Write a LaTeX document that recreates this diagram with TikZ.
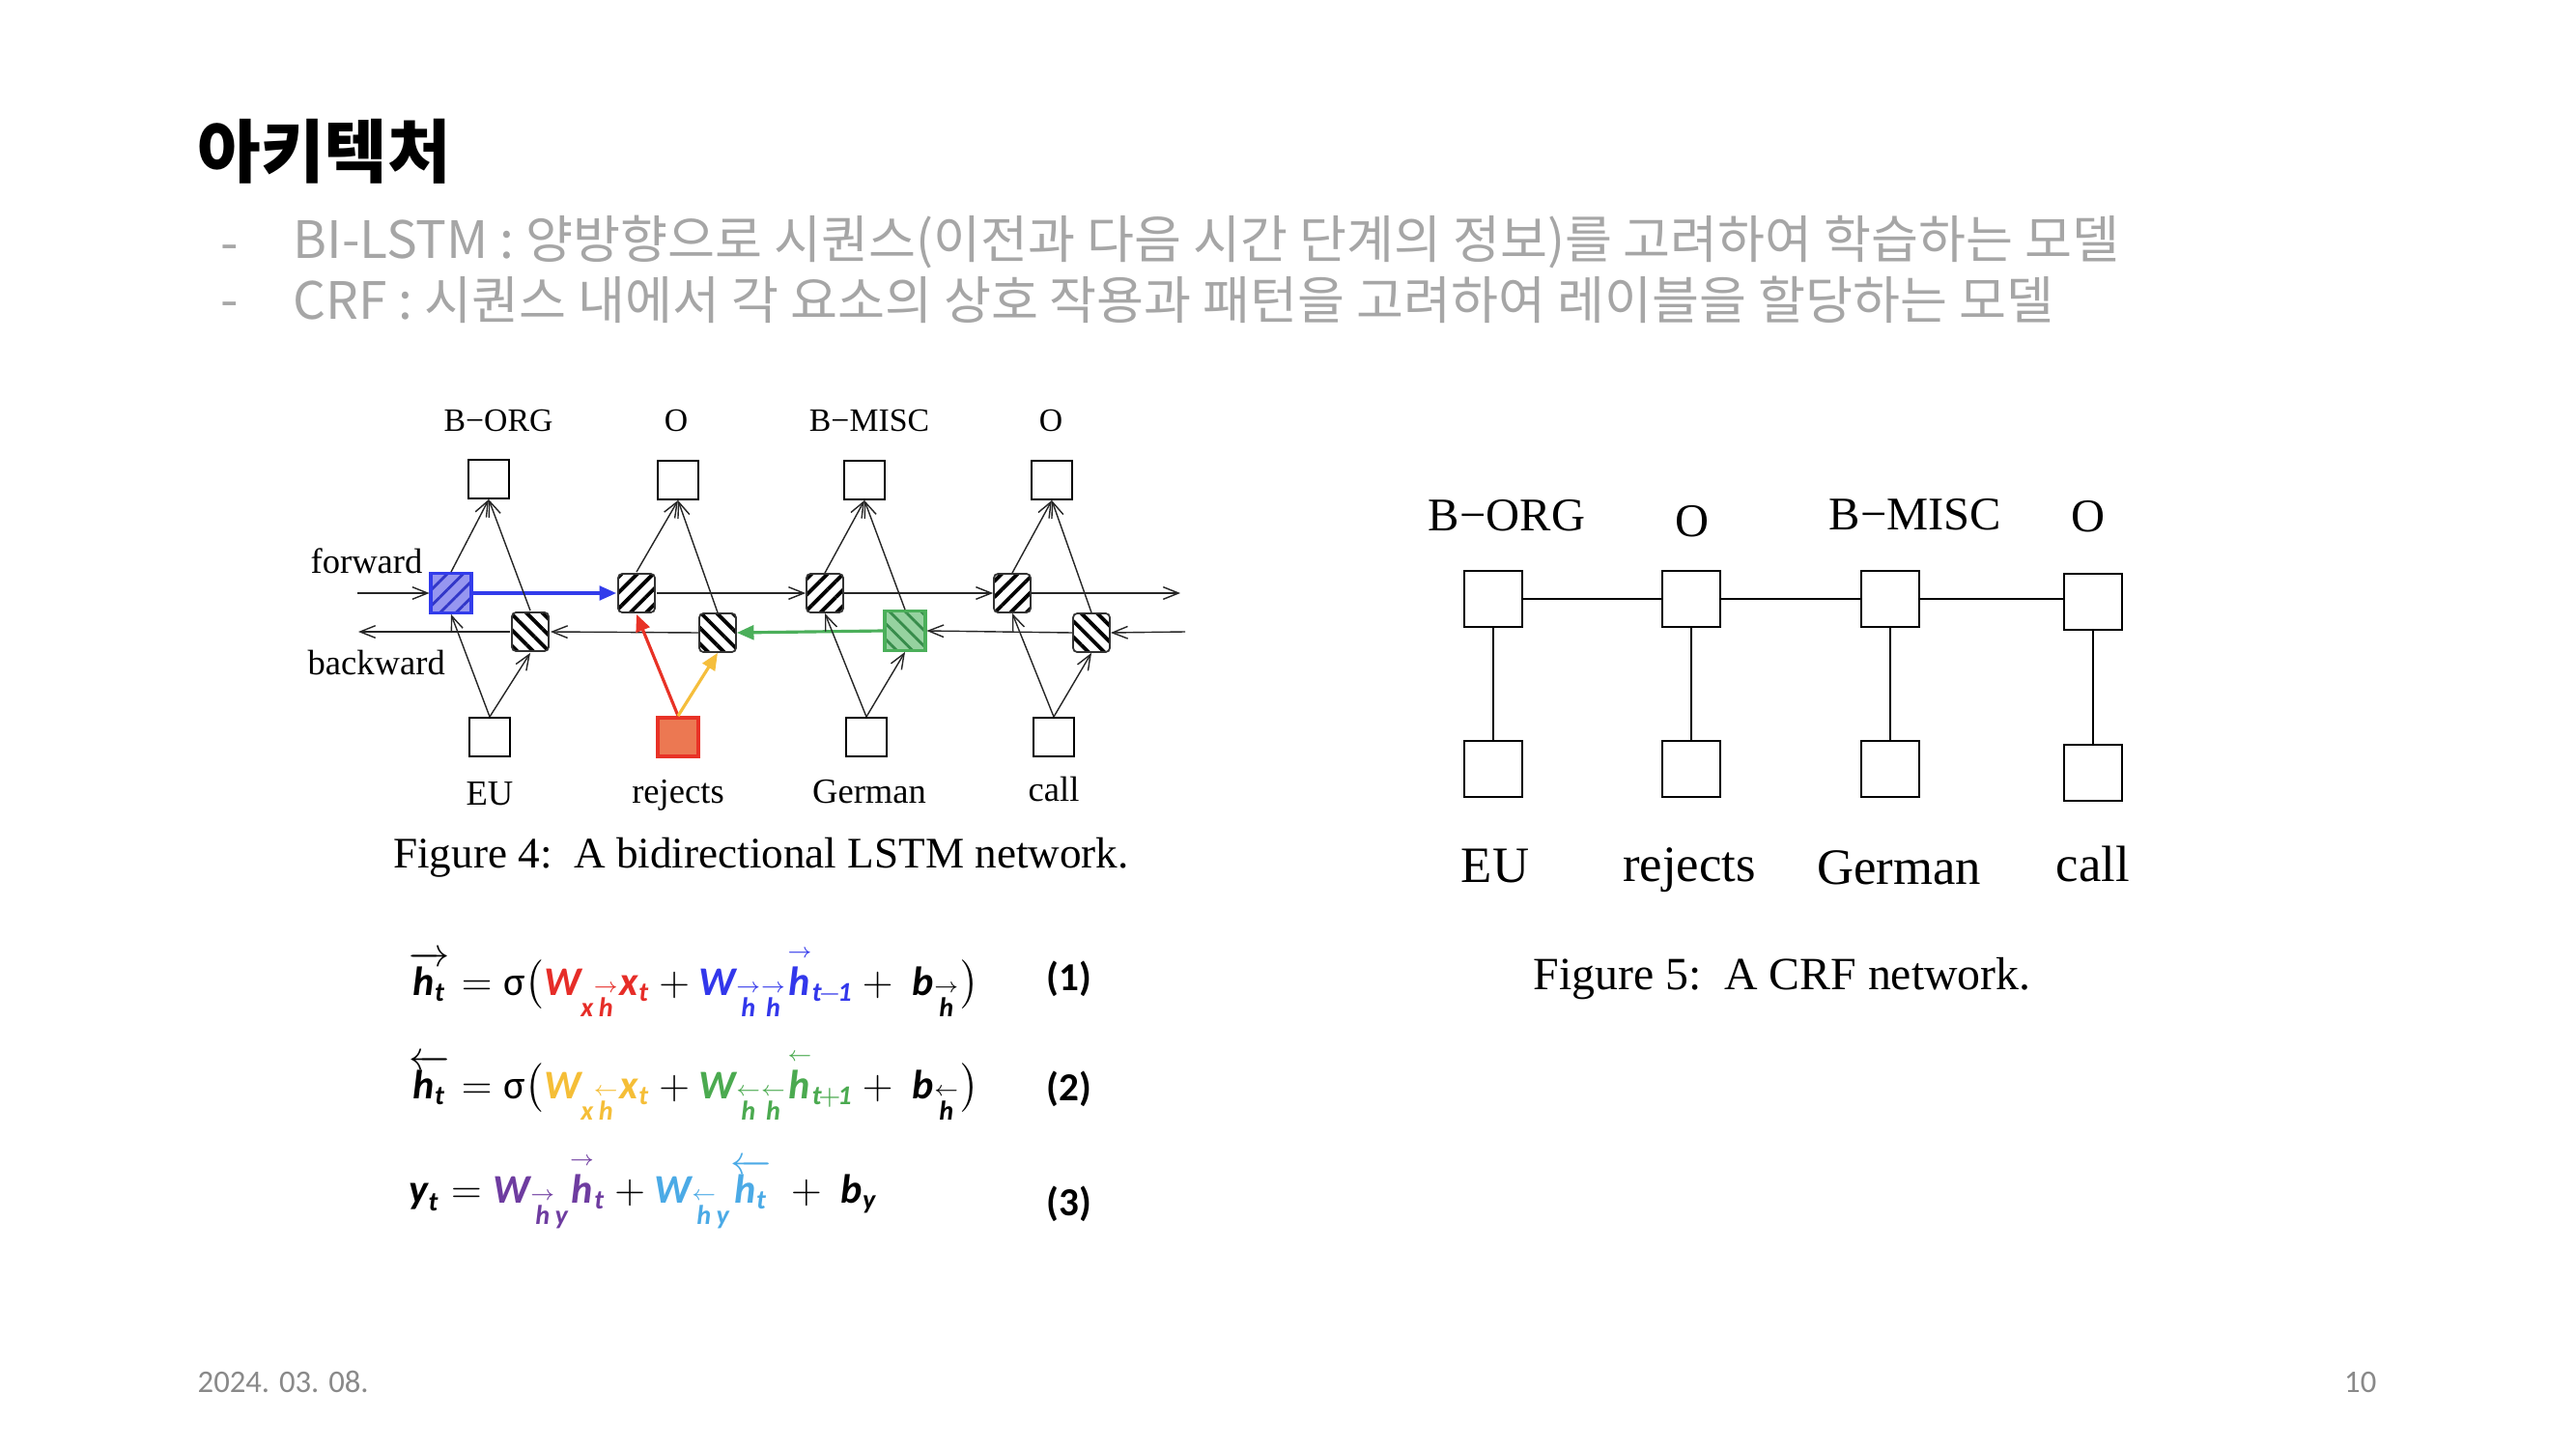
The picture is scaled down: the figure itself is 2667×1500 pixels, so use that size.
\documentclass[tikz,border=0pt]{standalone}
\usepackage{amsmath}
\usepackage{fontspec}
\usetikzlibrary{arrows.meta,patterns.meta}
\setmainfont{Liberation Serif}
\newfontfamily\kr{Noto Sans CJK KR}
\newfontfamily\eqf{Carlito}
\definecolor{bulgray}{RGB}{166,166,166}
\definecolor{footgray}{RGB}{137,137,137}
\definecolor{fblue}{RGB}{50,60,235}
\definecolor{fblueL}{RGB}{150,150,240}
\definecolor{fblueD}{RGB}{50,55,200}
\definecolor{ggreen}{RGB}{75,175,90}
\definecolor{ggreenL}{RGB}{150,210,160}
\definecolor{ggreenD}{RGB}{55,140,75}
\definecolor{rred}{RGB}{232,50,38}
\definecolor{rredL}{RGB}{236,120,82}
\definecolor{yel}{RGB}{245,190,60}
\definecolor{eqred}{RGB}{230,45,40}
\definecolor{eqblue}{RGB}{50,55,235}
\definecolor{eqyel}{RGB}{245,190,55}
\definecolor{eqgreen}{RGB}{75,170,80}
\definecolor{eqpurp}{RGB}{110,60,160}
\definecolor{eqlb}{RGB}{75,170,230}
\newcommand{\bi}[1]{\text{\eqf\bfseries\itshape #1}}
\newcommand{\ah}{\overset{\scriptscriptstyle\rightarrow}{\bi{h}}}
\newcommand{\lh}{\overset{\scriptscriptstyle\leftarrow}{\bi{h}}}
\tikzset{
  obox/.style={draw=black, line width=0.55pt, minimum width=4.2mm, minimum height=4.0mm, inner sep=0pt},
  hatchbase/.style={draw=black!80, line width=0.5pt, rounded corners=1.2pt, minimum width=3.8mm, minimum height=4.0mm, inner sep=0pt},
  fwd/.style={hatchbase, pattern={Lines[angle=45,distance=3.3pt,line width=1.1pt]}, pattern color=black},
  bwd/.style={hatchbase, pattern={Lines[angle=-45,distance=3.3pt,line width=1.1pt]}, pattern color=black},
  thin/.style={line width=0.4pt, black!85},
  oarr/.style={thin, -{Straight Barb[length=4.5pt,width=3.6pt,line width=0.4pt]}},
  farr/.style={line width=0.9pt, -{Triangle[length=5pt,width=4.2pt]}},
  lab4/.style={font=\fontsize{9.6}{10}\selectfont, anchor=base, inner sep=0pt},
  word4/.style={font=\fontsize{10.4}{11}\selectfont, anchor=base, inner sep=0pt},
  cbox/.style={draw=black, line width=0.7pt, minimum width=6.0mm, minimum height=5.8mm, inner sep=0pt},
  lab5/.style={font=\fontsize{13.8}{15}\selectfont, anchor=base, inner sep=0pt},
  word5/.style={font=\fontsize{15}{16}\selectfont, anchor=base, inner sep=0pt},
  bul/.style={font=\kr\fontsize{15.15}{17}\selectfont, text=bulgray, inner sep=0pt, anchor=west},
  eqn/.style={font=\fontsize{12}{14}\selectfont, anchor=base west, inner sep=0pt},
  eqno/.style={font=\eqf\bfseries\fontsize{11.7}{13}\selectfont, inner sep=0pt},
  foot/.style={font=\eqf\fontsize{9.3}{10}\selectfont, text=footgray, inner sep=0pt, anchor=base}
}
\begin{document}
\begin{tikzpicture}[x=0.1mm, y=-0.1mm]
\useasboundingbox[fill=white] (0,0) rectangle (2667,1500);

% title and bullets
\node[font=\kr\bfseries\fontsize{20.3}{23}\selectfont, anchor=west, inner sep=0pt] (title) at (204,157) {아키텍처};
\node[bul] (d1) at (228,251) {-\vphantom{양}};
\node[bul] (t1) at (303,251) {BI-LSTM :\ 양방향으로 시퀀스(이전과 다음 시간 단계의 정보)를 고려하여 학습하는 모델};
\node[bul] (d2) at (228,310) {-\vphantom{양}};
\node[bul] (t2) at (303,310) {CRF : 시퀀스 내에서 각 요소의 상호 작용과 패턴을 고려하여 레이블을 할당하는 모델};

% ---------- Figure 4 : BiLSTM ----------
\node[obox] (o1) at (506,496) {};
\node[obox] (o2) at (702,497) {};
\node[obox] (o3) at (895,497) {};
\node[obox] (o4) at (1089,497) {};
\node[obox] (i1) at (507,763) {};
\node[obox, draw=rred, line width=1.1pt, fill=rredL] (i2) at (702,763) {};
\node[obox] (i3) at (897,763) {};
\node[obox] (i4) at (1091,763) {};

\node[hatchbase, draw=fblue, line width=1.1pt, rounded corners=0pt, minimum width=4.2mm, minimum height=4.1mm,
      preaction={fill=fblueL}, pattern={Lines[angle=45,distance=3.3pt,line width=0.8pt]}, pattern color=fblueD] (f1) at (467,614) {};
\node[fwd] (f2) at (659,614) {};
\node[fwd] (f3) at (854,614) {};
\node[fwd] (f4) at (1048,614) {};
\node[bwd] (b1) at (549,654) {};
\node[bwd] (b2) at (743,655) {};
\node[hatchbase, draw=ggreen, line width=1.1pt, rounded corners=0pt, minimum width=4.2mm, minimum height=4.1mm,
      preaction={fill=ggreenL}, pattern={Lines[angle=-45,distance=3.3pt,line width=0.8pt]}, pattern color=ggreenD] (b3) at (937,653) {};
\node[bwd] (b4) at (1130,655) {};

\coordinate (fs) at (370,614);
\coordinate (fe) at (1222,614);
\coordinate (bs) at (1227,654);
\coordinate (be) at (371,654);

% horizontal chains
\draw[oarr] (fs) -- (f1.west);
\draw[farr, fblue] (f1.east) -- (f2.west);
\draw[oarr] (f2.east) -- (f3.west);
\draw[oarr] (f3.east) -- (f4.west);
\draw[oarr] (f4.east) -- (fe);
\draw[oarr] (bs) -- (b4.east);
\draw[oarr] (b4.west) -- (b3.east);
\draw[farr, ggreen] (b3.west) -- (b2.east);
\draw[oarr] (b2.west) -- (b1.east);
\draw[oarr] (b1.west) -- (be);

% vertical connections
\foreach \k in {1,3,4}{
  \draw[oarr] (i\k.north) -- (f\k.south);
  \draw[oarr] (i\k.north) -- (b\k.south);
}
\draw[farr, rred] (i2.north) -- (f2.south);
\draw[farr, yel] (i2.north) -- (b2.south);
\foreach \k in {1,2,3,4}{
  \draw[oarr] (f\k.north) -- (o\k.south);
  \draw[oarr] (b\k.north) -- (o\k.south);
}

% labels
\node[lab4] (lo1) at (516,446) {B−ORG};
\node[lab4] (lo2) at (700,446) {O};
\node[lab4] (lo3) at (900,446) {B−MISC};
\node[lab4] (lo4) at (1088,446) {O};
\node[word4] (w1) at (507,833) {EU};
\node[word4] (w2) at (702,831) {rejects};
\node[word4] (w3) at (900,831) {German};
\node[word4] (w4) at (1091,829) {call};
\node[word4, anchor=base west] (fw) at (321,593) {forward};
\node[word4, anchor=base west] (bw) at (318,698) {backward};
\node[font=\fontsize{12.85}{14}\selectfont, anchor=base, inner sep=0pt] (cap4) at (788,898) {Figure 4:\ \ A bidirectional LSTM network.};

% ---------- Figure 5 : CRF ----------
\node[cbox] (c1) at (1546,620) {};
\node[cbox] (c2) at (1751,620) {};
\node[cbox] (c3) at (1957,620) {};
\node[cbox] (c4) at (2167,623) {};
\node[cbox] (x1) at (1546,796) {};
\node[cbox] (x2) at (1751,796) {};
\node[cbox] (x3) at (1957,796) {};
\node[cbox] (x4) at (2167,800) {};
\draw[line width=0.6pt] (c1.east) -- (c2.west);
\draw[line width=0.6pt] (c2.east) -- (c3.west);
\draw[line width=0.6pt] (c3.east) -- (c3.east -| c4.west);
\foreach \k in {1,2,3,4}{ \draw[line width=0.6pt] (c\k.south) -- (x\k.north); }
\node[lab5] (l1) at (1560,549) {B−ORG};
\node[lab5] (l2) at (1752,555) {O};
\node[lab5] (l3) at (1983,548) {B−MISC};
\node[lab5] (l4) at (2162,550) {O};
\node[word5] (v1) at (1548,913) {EU};
\node[word5] (v2) at (1749,912) {rejects};
\node[word5] (v3) at (1966,915) {German};
\node[word5] (v4) at (2167,912) {call};
\node[font=\fontsize{13.6}{15}\selectfont, anchor=base, inner sep=0pt] (cap5) at (1845,1024) {Figure 5:\ \ A CRF network.};

% ---------- equations ----------
\node[eqn] (e1) at (423,1030) {$\overrightarrow{\bi{h}_{\bi{t}}} = \text{\eqf σ}\bigl({\color{eqred}\bi{W}_{\bi{x}\ah}\bi{x}_{\bi{t}}} + {\color{eqblue}\bi{W}_{\ah\ah}\ah_{\bi{t}\mkern-2mu-\mkern-2mu\bi{1}}} + \ \bi{b}_{\ah}\bigr)$};
\node[eqn] (e2) at (423,1137) {$\overleftarrow{\bi{h}_{\bi{t}}} = \text{\eqf σ}\bigl({\color{eqyel}\bi{W}_{\bi{x}\lh}\bi{x}_{\bi{t}}} + {\color{eqgreen}\bi{W}_{\lh\lh}\lh_{\bi{t}\mkern-2mu+\mkern-2mu\bi{1}}} + \ \bi{b}_{\lh}\bigr)$};
\node[eqn] (e3) at (423,1245) {$\bi{y}_{\bi{t}} = {\color{eqpurp}\bi{W}_{\ah\bi{y}}\ah_{\bi{t}}} + {\color{eqlb}\bi{W}_{\lh\bi{y}}\overleftarrow{\bi{h}_{\bi{t}}}} \ + \ \bi{b}_{\bi{y}}$};
\node[eqno] (n1) at (1107,1013) {(1)};
\node[eqno] (n2) at (1107,1127) {(2)};
\node[eqno] (n3) at (1107,1246) {(3)};

% footer
\node[foot, anchor=base west] (date) at (204,1441) {2024. 03. 08.};
\node[foot, anchor=base east] (page) at (2461,1441) {10};
\end{tikzpicture}
\end{document}
